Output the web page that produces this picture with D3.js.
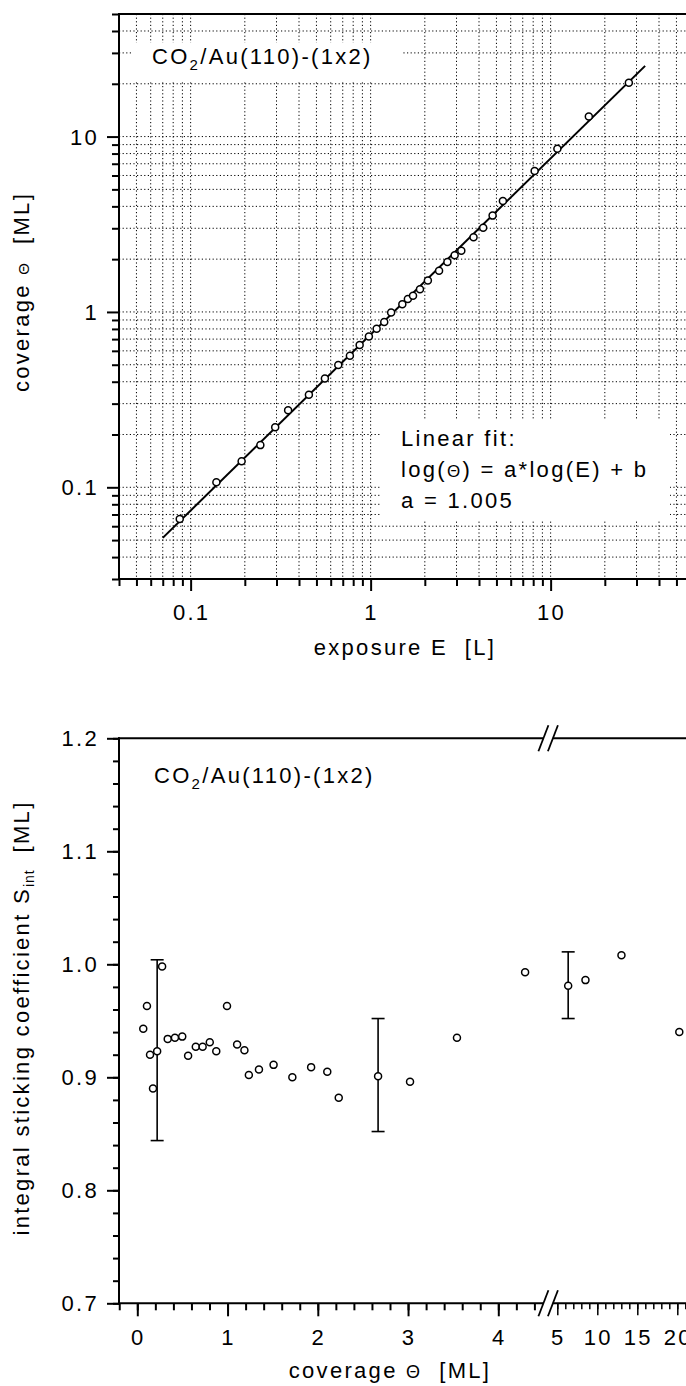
<!DOCTYPE html>
<html>
<head>
<meta charset="utf-8">
<script src="https://cdn.jsdelivr.net/npm/d3@7"></script>
<style>
  body { margin: 0; background: #fff; }
  svg { display: block; }
  text { font-family: "Liberation Sans", Arial, sans-serif; fill: #000; white-space: pre; }
</style>
</head>
<body>
<svg id="chart" width="686" height="1386"></svg>
<script>
// values
var exposure = [0.087, 0.139, 0.192, 0.244, 0.295, 0.348, 0.454, 0.557, 0.661, 0.767,
  0.869, 0.978, 1.08, 1.19, 1.30, 1.50, 1.61, 1.72, 1.88, 2.08,
  2.40, 2.67, 2.93, 3.19, 3.73, 4.22, 4.76, 5.43, 8.15, 10.9, 16.3, 27.2];
var coverage = [0.066, 0.107, 0.141, 0.174, 0.22, 0.275, 0.337, 0.417, 0.498, 0.563,
  0.648, 0.724, 0.803, 0.875, 0.994, 1.106, 1.187, 1.236, 1.348, 1.51,
  1.718, 1.926, 2.105, 2.232, 2.668, 3.022, 3.542, 4.297, 6.36, 8.52, 13.02, 20.25];
var sticking = [0.943, 0.963, 0.920, 0.890, 0.923, 0.998, 0.934, 0.935, 0.936, 0.919,
  0.927, 0.927, 0.931, 0.923, 0.963, 0.929, 0.924, 0.902, 0.907, 0.911,
  0.900, 0.909, 0.905, 0.882, 0.901, 0.896, 0.935, 0.993, 0.981, 0.986, 1.008, 0.940];

// error bars (coverage, low, high)
var errCoverage = [0.22, 2.668, 6.36];
var errLow = [0.844, 0.852, 0.952];
var errHigh = [1.004, 0.952, 1.011];

// linear fit end points
var fitE = [0.07, 33.5];
var fitTheta = [0.0515, 25.3];

// tick labels
var topXLabels = [0.1, 1, 10];
var topYLabels = [0.1, 1, 10];
var botYLabels = [0.7, 0.8, 0.9, 1.0, 1.1, 1.2];
var botXLabelsA = [0, 1, 2, 3, 4];
var botXLabelsB = [5, 10, 15, 20];

var fitLines = ['Linear fit:', 'log(\u0398) = a*log(E) + b', 'a = 1.005'];

var svg = d3.select('#chart');
var W = 686;
var FS = '22px';
var LS = '2.3px';

function dotted(sel) {
  return sel.attr('stroke', '#000')
    .attr('stroke-width', 1)
    .attr('stroke-dasharray', '1.2,2.4');
}

function styleAxis(g, width) {
  g.select('.domain').remove();
  g.selectAll('.tick line').attr('stroke', '#000').attr('stroke-width', width || 2);
  g.selectAll('.tick text').remove();
}

function addLabel(parent, x, y, anchor) {
  return parent.append('text')
    .attr('x', x).attr('y', y)
    .attr('text-anchor', anchor || 'start')
    .style('font-size', FS)
    .style('letter-spacing', LS);
}

function sampleLabel(parent, x, y) {
  var t = addLabel(parent, x, y);
  t.append('tspan').text('CO');
  t.append('tspan').text('2').style('font-size', '15px').attr('dy', 6);
  t.append('tspan').text('/Au(110)-(1x2)').attr('dy', -6);
  return t;
}

/**
 * Top panel: coverage vs exposure, log-log
 */
var xTop = d3.scaleLog().domain([0.04, 100]).range([119, 119 + 180 * Math.log10(2500)]);
var yTop = d3.scaleLog().domain([0.03, 50]).range([579, 14]);

var topPanel = svg.append('g').attr('id', 'top-panel');

topPanel.append('clipPath').attr('id', 'clip-top')
  .append('rect').attr('x', 119).attr('y', 14).attr('width', W - 119).attr('height', 565);

var grid = topPanel.append('g').attr('clip-path', 'url(#clip-top)');

grid.selectAll('line.gx')
  .data(xTop.ticks().filter(function (d) { return d > 0.04; }))
  .enter().append('line')
  .attr('class', 'gx')
  .attr('x1', xTop).attr('x2', xTop)
  .attr('y1', yTop.range()[1]).attr('y2', yTop.range()[0])
  .call(dotted);

grid.selectAll('line.gy')
  .data(yTop.ticks().filter(function (d) { return d > 0.03 && d < 50; }))
  .enter().append('line')
  .attr('class', 'gy')
  .attr('y1', yTop).attr('y2', yTop)
  .attr('x1', 119).attr('x2', W)
  .call(dotted);

// white boxes behind the annotations
grid.append('rect').attr('x', 133).attr('y', 43).attr('width', 270).attr('height', 38).attr('fill', '#fff');
grid.append('rect').attr('x', 380).attr('y', 420).attr('width', 290).attr('height', 101).attr('fill', '#fff');

// fit line
var fitLine = d3.line()
  .x(function (d) { return xTop(d[0]); })
  .y(function (d) { return yTop(d[1]); });

grid.append('path')
  .datum(d3.zip(fitE, fitTheta))
  .attr('d', fitLine)
  .attr('fill', 'none')
  .attr('stroke', '#000')
  .attr('stroke-width', 2);

grid.selectAll('circle')
  .data(d3.zip(exposure, coverage))
  .enter().append('circle')
  .attr('cx', function (d) { return xTop(d[0]); })
  .attr('cy', function (d) { return yTop(d[1]); })
  .attr('r', 3.5)
  .attr('fill', '#fff')
  .attr('stroke', '#000')
  .attr('stroke-width', 1.5);

// axes
var xMinor = xTop.ticks().filter(function (d) { return topXLabels.indexOf(d) < 0; });
topPanel.append('g').attr('transform', 'translate(0,579)')
  .call(d3.axisBottom(xTop).tickValues(xMinor).tickSize(7).tickFormat(''))
  .call(styleAxis);
topPanel.append('g').attr('transform', 'translate(0,579)')
  .call(d3.axisBottom(xTop).tickValues(topXLabels).tickSize(12).tickFormat(''))
  .call(styleAxis);

var yMinor = yTop.ticks().filter(function (d) { return topYLabels.indexOf(d) < 0; });
topPanel.append('g').attr('transform', 'translate(119,0)')
  .call(d3.axisLeft(yTop).tickValues(yMinor).tickSize(7).tickFormat(''))
  .call(styleAxis);
topPanel.append('g').attr('transform', 'translate(119,0)')
  .call(d3.axisLeft(yTop).tickValues(topYLabels).tickSize(12).tickFormat(''))
  .call(styleAxis);

topPanel.append('line').attr('x1', 119).attr('x2', 119).attr('y1', 13).attr('y2', 580)
  .attr('stroke', '#000').attr('stroke-width', 2);
topPanel.append('line').attr('x1', 118).attr('x2', W).attr('y1', 579).attr('y2', 579)
  .attr('stroke', '#000').attr('stroke-width', 2);
topPanel.append('line').attr('x1', 118).attr('x2', W).attr('y1', 14).attr('y2', 14)
  .attr('stroke', '#000').attr('stroke-width', 2);

topXLabels.forEach(function (v) {
  addLabel(topPanel, xTop(v) + 1, 620, 'middle').text(String(v));
});
topYLabels.forEach(function (v) {
  addLabel(topPanel, 99, yTop(v) + 8, 'end').text(String(v));
});

addLabel(topPanel, 405, 655, 'middle').text('exposure E  [L]');

var yt = addLabel(topPanel, 0, 0, 'middle').attr('transform', 'translate(29,292) rotate(-90)');
yt.append('tspan').text('coverage ');
yt.append('tspan').text('\u0398').style('font-size', '15px');
yt.append('tspan').text('  [ML]');

sampleLabel(topPanel, 152, 64);

fitLines.forEach(function (s, i) {
  var t = addLabel(topPanel, 401, 446 + i * 31);
  if (s.indexOf('\u0398') >= 0) {
    var parts = s.split('\u0398');
    t.append('tspan').text(parts[0]);
    t.append('tspan').text('\u0398').style('font-size', '17px');
    t.append('tspan').text(parts[1]);
  } else {
    t.text(s);
  }
});

/**
 * Bottom panel: sticking coefficient vs coverage, broken x axis
 */
var xA = d3.scaleLinear().domain([-0.2, 4.6]).range([119.25, 119.25 + 4.8 * 90.25]);
var xB = d3.scaleLinear().domain([5, 25]).range([557.3, 717.3]);
var yBot = d3.scaleLinear().domain([0.7, 1.2]).range([1303.3, 738.3]);

function xBroken(v) { return v < 4.7 ? xA(v) : xB(v); }

var bot = svg.append('g').attr('id', 'bottom-panel');

// error bars
var errs = bot.selectAll('g.err')
  .data(d3.zip(errCoverage, errLow, errHigh))
  .enter().append('g').attr('class', 'err');
errs.append('line')
  .attr('x1', function (d) { return xBroken(d[0]); })
  .attr('x2', function (d) { return xBroken(d[0]); })
  .attr('y1', function (d) { return yBot(d[1]); })
  .attr('y2', function (d) { return yBot(d[2]); });
[1, 2].forEach(function (k) {
  errs.append('line')
    .attr('x1', function (d) { return xBroken(d[0]) - 6.5; })
    .attr('x2', function (d) { return xBroken(d[0]) + 6.5; })
    .attr('y1', function (d) { return yBot(d[k]); })
    .attr('y2', function (d) { return yBot(d[k]); });
});
errs.selectAll('line').attr('stroke', '#000').attr('stroke-width', 1.6);

bot.selectAll('circle')
  .data(d3.zip(coverage, sticking))
  .enter().append('circle')
  .attr('cx', function (d) { return xBroken(d[0]); })
  .attr('cy', function (d) { return yBot(d[1]); })
  .attr('r', 3.5)
  .attr('fill', '#fff')
  .attr('stroke', '#000')
  .attr('stroke-width', 1.5);

// y axis
var yMinorB = d3.range(0.7, 1.2001, 0.02).map(function (d) { return +d.toFixed(2); });
bot.append('g').attr('transform', 'translate(119,0)')
  .call(d3.axisLeft(yBot).tickValues(yMinorB).tickSize(6).tickFormat(''))
  .call(styleAxis);
bot.append('g').attr('transform', 'translate(119,0)')
  .call(d3.axisLeft(yBot).tickValues(botYLabels).tickSize(12).tickFormat(''))
  .call(styleAxis);
botYLabels.forEach(function (v) {
  addLabel(bot, 99, yBot(v) + 8, 'end').text(d3.format('.1f')(v));
});

// x axis, left part
var xMinorA = d3.range(-0.2, 4.41, 0.2).map(function (d) { return +d.toFixed(1); });
bot.append('g').attr('transform', 'translate(0,1303.3)')
  .call(d3.axisBottom(xA).tickValues(xMinorA).tickSize(7).tickFormat(''))
  .call(styleAxis);
bot.append('g').attr('transform', 'translate(0,1303.3)')
  .call(d3.axisBottom(xA).tickValues(botXLabelsA).tickSize(13).tickFormat(''))
  .call(styleAxis);

// x axis, right part
var xMinorB = d3.range(5, 25.5, 1);
bot.append('g').attr('transform', 'translate(0,1303.3)')
  .call(d3.axisBottom(xB).tickValues(xMinorB).tickSize(6).tickFormat(''))
  .call(styleAxis, 1.5);
bot.append('g').attr('transform', 'translate(0,1303.3)')
  .call(d3.axisBottom(xB).tickValues(botXLabelsB).tickSize(12).tickFormat(''))
  .call(styleAxis, 1.5);

botXLabelsA.forEach(function (v) {
  addLabel(bot, xA(v) + 1, 1345, 'middle').text(String(v));
});
botXLabelsB.forEach(function (v) {
  addLabel(bot, xB(v) + 1, 1345, 'middle').text(String(v));
});

// frame lines with breaks
var breakL = xA(4.5);
var breakR = breakL + 9.5;
[yBot(1.2), yBot(0.7)].forEach(function (yy) {
  bot.append('line').attr('x1', 118).attr('x2', breakL).attr('y1', yy).attr('y2', yy)
    .attr('stroke', '#000').attr('stroke-width', 2);
  bot.append('line').attr('x1', breakR).attr('x2', W).attr('y1', yy).attr('y2', yy)
    .attr('stroke', '#000').attr('stroke-width', 2);
  [breakL, breakR].forEach(function (bx) {
    bot.append('line')
      .attr('x1', bx - 5).attr('y1', yy + 13)
      .attr('x2', bx + 5).attr('y2', yy - 13)
      .attr('stroke', '#000').attr('stroke-width', 1.8);
  });
});
bot.append('line').attr('x1', 119).attr('x2', 119).attr('y1', yBot(1.2) - 1).attr('y2', yBot(0.7) + 1)
  .attr('stroke', '#000').attr('stroke-width', 2);

sampleLabel(bot, 154, 783);

var bxt = addLabel(bot, 390, 1378, 'middle');
bxt.append('tspan').text('coverage ');
bxt.append('tspan').text('\u0398').style('font-size', '18px');
bxt.append('tspan').text('  [ML]');

var byt = addLabel(bot, 0, 0, 'middle').attr('transform', 'translate(29,1018) rotate(-90)');
byt.append('tspan').text('integral sticking coefficient S');
byt.append('tspan').text('int').style('font-size', '14px').style('letter-spacing', '1px').attr('dy', 5);
byt.append('tspan').text('  [ML]').attr('dy', -5);
</script>
</body>
</html>
